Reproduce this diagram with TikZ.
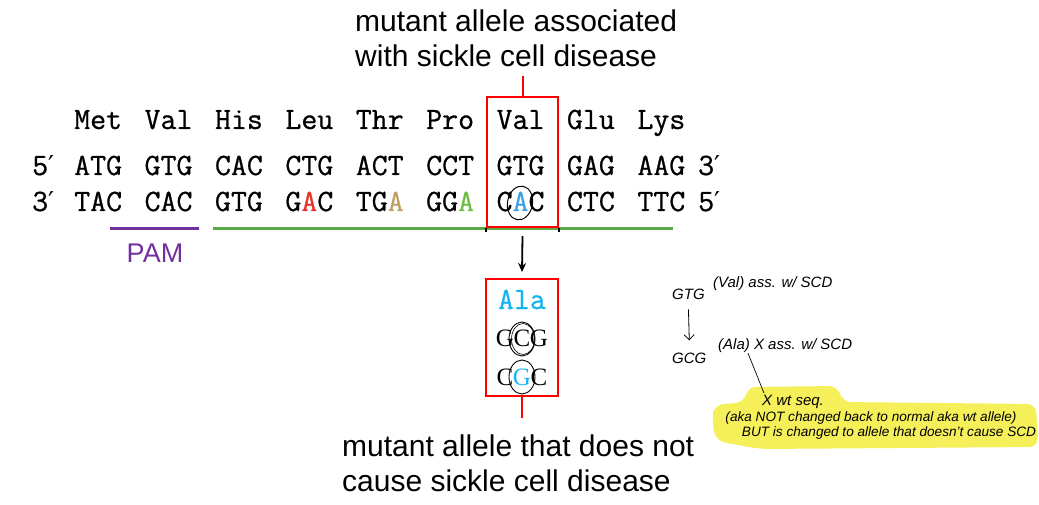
\documentclass[tikz,border=0pt]{standalone}
\usepackage{fontspec}
\setsansfont{Liberation Sans}
\newfontfamily\djv{DejaVu Sans}
\newfontfamily\serifL{Liberation Serif}
\newfontfamily\seqfont{Latin Modern Mono}[FakeBold=0.8]
\usetikzlibrary{arrows.meta}
\definecolor{boxred}{RGB}{255,0,0}
\definecolor{pamp}{RGB}{112,48,160}
\definecolor{grn}{RGB}{90,170,70}
\definecolor{aRed}{RGB}{230,50,40}
\definecolor{aTan}{RGB}{190,160,100}
\definecolor{aGreen}{RGB}{110,190,70}
\definecolor{aBlue}{RGB}{60,160,230}
\definecolor{cyanA}{RGB}{20,180,240}
\definecolor{hl}{RGB}{245,240,90}
\tikzset{
  seq/.style={font=\seqfont\fontsize{31}{31}\selectfont, inner sep=0, anchor=base west},
  lbl/.style={font=\sffamily\fontsize{30}{35}\selectfont, inner sep=0, anchor=base west},
  hand/.style={font=\sffamily\itshape\fontsize{15}{15}\selectfont, inner sep=0},
  handsm/.style={font=\sffamily\itshape\fontsize{13.6}{14}\selectfont, inner sep=0},
  redbox/.style={draw=boxred, line width=2pt, inner sep=0},
  ltr/.style={font=\serifL\fontsize{25}{25}\selectfont, inner sep=0, anchor=base},
}
\begin{document}
\begin{tikzpicture}[x=1pt,y=-1pt]
\useasboundingbox (0,0) rectangle (1039,505);
% titles
\node[lbl] (t1) at (355,32) {mutant allele associated};
\node[lbl] (t2) at (355,67) {with sickle cell disease};
\node[lbl] (b1) at (342,456) {mutant allele that does not};
\node[lbl] (b2) at (342,491) {cause sickle cell disease};
% sequences
\foreach \aa [count=\i from 0] in {Met,Val,His,Leu,Thr,Pro,Val,Glu,Lys}
  \node[seq] (aa\i) at ({74+70.4*\i},129) {\aa};
\foreach \cd [count=\i from 0] in {ATG,GTG,CAC,CTG,ACT,CCT,GTG,GAG,AAG}
  \node[seq] (top\i) at ({74+70.4*\i},175) {\cd};
\foreach \cd [count=\i from 0] in {TAC,CAC,GTG,{G\textcolor{aRed}{A}C},{TG\textcolor{aTan}{A}},{GG\textcolor{aGreen}{A}},{C\textcolor{aBlue}{A}C},CTC,TTC}
  \node[seq] (bot\i) at ({74+70.4*\i},211) {\cd};
\node[seq] (p5a) at (32,175) {5{\djv\fontsize{26}{26}\selectfont′}};
\node[seq] (p3a) at (32,211) {3{\djv\fontsize{26}{26}\selectfont′}};
\node[seq] (p3b) at (698,175) {3{\djv\fontsize{26}{26}\selectfont′}};
\node[seq] (p5b) at (698,211) {5{\djv\fontsize{26}{26}\selectfont′}};
% circle on A
\draw[line width=1pt, rotate around={-10:(520,203)}] (520,203) ellipse [x radius=12.5, y radius=17];
% lines
\draw[grn, line width=3pt] (213,229) -- (673,229);
\draw[pamp, line width=3pt] (110,229) -- (199,229);
\node[font=\sffamily\fontsize{27}{27}\selectfont, text=pamp, inner sep=0] (pam) at (155,253) {PAM};
% red box 1
\node[redbox, minimum width=71, minimum height=130] (box1) at (522.5,162) {};
\coordinate (c1) at (522.5,76);
\draw[boxred, line width=2pt] (box1.north) -- (c1);
\draw[line width=1.2pt] (box1.south west) -- ++(0,4);
\draw[line width=1.2pt] (box1.south east) -- ++(0,4);
% red box 2
\node[redbox, minimum width=72, minimum height=117] (box2) at (522,337.5) {};
\coordinate (c2) at (522,418);
\draw[boxred, line width=2pt] (box2.south) -- (c2);
\draw[-{Stealth[length=9pt,width=8pt]}, line width=1.8pt] ([yshift=-8pt]box1.south) -- ([yshift=6pt]box2.north);
% box 2 contents
\node[font=\seqfont\fontsize{31}{31}\selectfont, text=cyanA, inner sep=0, anchor=base] (ala) at (522,309) {Ala};
\node[ltr] (g1) at (505,346) {G};
\node[ltr] (g2) at (522,346) {C};
\node[ltr] (g3) at (539,346) {G};
\draw[line width=0.9pt] (522,339) ellipse [x radius=13, y radius=17];
\draw[line width=0.6pt] (523,339) ellipse [x radius=11.5, y radius=15.5];
\node[ltr] (h1) at (505,385) {C};
\node[ltr, text=cyanA] (h2) at (522,385) {G};
\node[ltr] (h3) at (539,385) {C};
\draw[line width=0.9pt] (522,377) ellipse [x radius=13, y radius=17];
% handwritten notes
\fill[hl, rounded corners=9] (712,420) -- (714,405) -- (745,402) -- (747,387) -- (838,386) -- (842,402) -- (1036,404) -- (1038,447) -- (760,449) -- (716,441) -- cycle;
\node[hand, anchor=base west] (n1) at (672,299) {GTG};
\node[hand, anchor=west] (n2) at (713,284) {(Val) ass. w/ SCD};
\node[hand, anchor=base west] (n3) at (672,363) {GCG};
\node[hand, anchor=west] (n4) at (718,346) {(Ala) X ass. w/ SCD};
\draw[line width=0.8pt, -{Straight Barb[length=5pt]}] ([yshift=-10pt]n1.south) -- ([yshift=12pt]n3.north);
\node[hand, anchor=west] (n5) at (762,402) {X wt seq.};
\node[handsm] (n6) at (871,418) {(aka NOT changed back to normal aka wt allele)};
\node[handsm] (n7) at (889,433) {BUT is changed to allele that doesn't cause SCD};
\draw[line width=0.7pt] ([xshift=30pt]n4.south west) -- ([xshift=2pt,yshift=2pt]n5.north west);
\end{tikzpicture}
\end{document}
